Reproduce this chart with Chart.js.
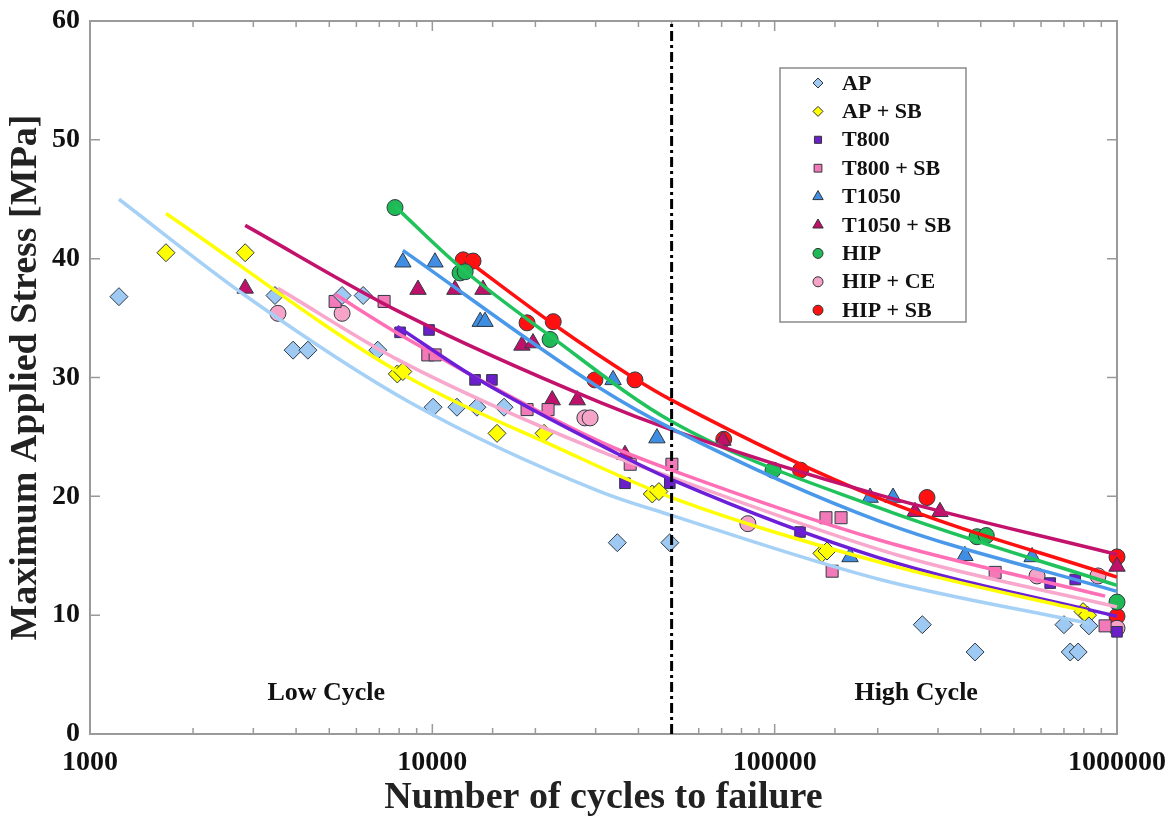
<!DOCTYPE html>
<html>
<head>
<meta charset="utf-8">
<script src="https://cdn.jsdelivr.net/npm/chart.js@4.4.1/dist/chart.umd.min.js"></script>
<style>
html, body { margin: 0; padding: 0; background: #fff; }
#wrap { width: 1174px; height: 821px; position: relative; }
</style>
</head>
<body>
<div id="wrap"><canvas id="myChart"></canvas></div>
<script>
// series names, same order as the legend
const SERIES = ['AP', 'AP + SB', 'T800', 'T800 + SB', 'T1050', 'T1050 + SB', 'HIP', 'HIP + CE', 'HIP + SB'];

// measured points [cycles, stress MPa]
const AP = [[1215,36.8],[3470,36.9],[3920,32.3],[4330,32.3],[5450,36.9],[6280,36.9],[6930,32.3],[10050,27.5],[11800,27.5],[13500,27.5],[16200,27.5],[34700,16.1],[49400,16.1],[270000,9.2],[385000,6.9],[700000,9.2],[730000,6.9],[770000,6.9],[828000,9.1]];
const AP_SB = [[1667,40.5],[2840,40.5],[7900,30.3],[8200,30.5],[15450,25.3],[21200,25.3],[43900,20.2],[45900,20.4],[137400,15.2],[142200,15.4],[796000,10.3],[820000,10.0]];
const T800 = [[8050,33.8],[9780,34.0],[13330,29.8],[14930,29.8],[36540,21.1],[49400,21.1],[118600,17.0],[638000,12.7],[755000,13.0],[1000000,8.6]];
const T800_SB = [[5200,36.4],[7230,36.4],[9700,31.9],[10190,31.9],[18910,27.3],[21780,27.3],[37850,22.7],[50100,22.7],[141200,18.2],[156300,18.2],[147200,13.7],[440600,13.6],[923000,9.1]];
const T1050 = [[8200,39.7],[10180,39.7],[13800,34.7],[14250,34.7],[33730,29.8],[45300,24.9],[166000,14.9],[190000,19.9],[221700,19.9],[359500,15.0],[565000,14.9]];
const T1050_SB = [[2840,37.5],[9080,37.4],[11640,37.4],[14060,37.4],[18270,32.7],[19680,32.9],[22400,28.1],[26500,28.1],[36540,23.5],[70600,24.7],[257000,18.7],[304000,18.7],[1000000,14.1]];
const HIP = [[7780,44.3],[12050,38.8],[12470,38.9],[22080,33.2],[98900,22.2],[390000,16.6],[415000,16.7],[1000000,11.1]];
const HIP_CE = [[3540,35.4],[5450,35.4],[27900,26.6],[28900,26.6],[83500,17.7],[584000,13.3],[880000,13.3],[1000000,8.9]];
const HIP_SB = [[12310,39.9],[13150,39.8],[18910,34.6],[22550,34.7],[29850,29.8],[39080,29.8],[71000,24.8],[119000,22.2],[278600,19.9],[1000000,14.9],[1000000,9.9]];

// fitted curves
const AP_FIT = [[1215,45.0],[2840,36.9],[8610,27.9],[30900,20.4],[50000,18.4],[203000,13.0],[828000,9.3]];
const AP_SB_FIT = [[1667,43.8],[8050,30.4],[23600,24.0],[50000,19.9],[232000,14.0],[820000,10.3]];
const T800_FIT = [[7900,34.3],[13330,30.0],[34660,23.6],[50000,21.4],[203000,14.8],[1000000,9.9]];
const T800_SB_FIT = [[5200,37.0],[8050,33.6],[30900,24.6],[50000,22.2],[203000,16.3],[923000,11.6]];
const T1050_FIT = [[8200,40.7],[30900,29.1],[50000,25.7],[203000,17.9],[1000000,12.0]];
const T1050_SB_FIT = [[2840,42.8],[8050,35.5],[30900,27.9],[50000,25.6],[203000,20.1],[1000000,15.1]];
const HIP_FIT = [[7780,44.4],[12050,39.3],[22080,33.5],[50000,26.3],[203000,19.0],[1000000,12.5]];
const HIP_CE_FIT = [[3540,37.5],[8050,31.4],[30900,23.8],[50000,21.6],[232000,15.0],[1000000,10.7]];
const HIP_SB_FIT = [[12310,40.1],[22550,34.5],[39080,29.9],[50000,28.1],[203000,19.8],[1000000,13.2]];

const POINTS = [AP, AP_SB, T800, T800_SB, T1050, T1050_SB, HIP, HIP_CE, HIP_SB];
const FITS = [AP_FIT, AP_SB_FIT, T800_FIT, T800_SB_FIT, T1050_FIT, T1050_SB_FIT, HIP_FIT, HIP_CE_FIT, HIP_SB_FIT];

const X_LABELS = [1000, 10000, 100000, 1000000];
const LIMIT = 50000;
const REGIONS = [['Low Cycle', 4900, 3.4], ['High Cycle', 259000, 3.4]];

// looks
const FONT = "'Liberation Serif', 'Times New Roman', serif";
const LOOKS = [
    { fill: '#9ec9f2', line: '#a6d1f6', shape: 'rectRot', r: 9, lr: 5 },
    { fill: '#ffff00', line: '#ffff00', shape: 'rectRot', r: 9, lr: 5 },
    { fill: '#6a1fc9', line: '#6b1fd6', shape: 'rect', r: 7.5, lr: 5 },
    { fill: '#f27ab8', line: '#ff6fb6', shape: 'rect', r: 8.5, lr: 5.5 },
    { fill: '#3f8ee3', line: '#4a98ea', shape: 'triangle', r: 9.5, lr: 6 },
    { fill: '#c0116a', line: '#c2126c', shape: 'triangle', r: 9.5, lr: 6 },
    { fill: '#1fba55', line: '#20c25b', shape: 'circle', r: 8, lr: 5 },
    { fill: '#f5a3c7', line: '#f8a8cc', shape: 'circle', r: 8, lr: 5 },
    { fill: '#ff1111', line: '#ff1010', shape: 'circle', r: 8, lr: 5 }
];

const isDecade = v => Math.abs(Math.log10(v) - Math.round(Math.log10(v))) < 1e-6;

const frame = {
    id: 'frame',
    beforeDatasetsDraw(chart) {
        const { ctx, chartArea: a, scales: { x, y } } = chart;
        ctx.save();
        ctx.strokeStyle = '#9a9a9a';
        ctx.lineWidth = 2;
        ctx.strokeRect(a.left, a.top, a.width, a.height);
        ctx.lineWidth = 1.5;
        ctx.beginPath();
        x.ticks.forEach(t => {
            const px = x.getPixelForValue(t.value);
            const len = isDecade(t.value) ? 10 : 6;
            ctx.moveTo(px, a.bottom); ctx.lineTo(px, a.bottom - len);
            ctx.moveTo(px, a.top); ctx.lineTo(px, a.top + len);
        });
        y.ticks.forEach(t => {
            const py = y.getPixelForValue(t.value);
            ctx.moveTo(a.left, py); ctx.lineTo(a.left + 10, py);
            ctx.moveTo(a.right, py); ctx.lineTo(a.right - 10, py);
        });
        ctx.stroke();
        ctx.restore();
    },
    afterDatasetsDraw(chart) {
        const { ctx, scales: { x, y } } = chart;
        ctx.save();
        ctx.fillStyle = '#111';
        ctx.font = 'bold 26px ' + FONT;
        ctx.textAlign = 'center';
        ctx.textBaseline = 'middle';
        REGIONS.forEach(([txt, vx, vy]) => {
            ctx.fillText(txt, x.getPixelForValue(vx), y.getPixelForValue(vy));
        });
        ctx.restore();
    },
    afterDraw(chart) {
        const ctx = chart.ctx;
        const box = { l: 780, t: 68, w: 186, h: 254 };
        ctx.save();
        ctx.fillStyle = '#fff';
        ctx.fillRect(box.l, box.t, box.w, box.h);
        ctx.strokeStyle = '#8a8a8a';
        ctx.lineWidth = 1.5;
        ctx.strokeRect(box.l, box.t, box.w, box.h);
        ctx.font = 'bold 22px ' + FONT;
        ctx.textBaseline = 'middle';
        ctx.textAlign = 'left';
        SERIES.forEach((name, i) => {
            const cy = box.t + 15 + i * 28.4;
            const lk = LOOKS[i];
            ctx.fillStyle = lk.fill;
            ctx.strokeStyle = '#333';
            ctx.lineWidth = 1;
            Chart.helpers.drawPoint(ctx, { pointStyle: lk.shape, radius: lk.lr, borderWidth: 1 }, 818, cy);
            ctx.fillStyle = '#111';
            ctx.fillText(name, 842, cy + 1);
        });
        ctx.restore();
    }
};

const datasets = [];
datasets.push({
    label: 'limit',
    data: [{ x: LIMIT, y: 0 }, { x: LIMIT, y: 60 }],
    showLine: true,
    borderColor: '#000',
    borderWidth: 3,
    borderDash: [10, 4, 3, 4],
    pointRadius: 0,
    clip: false
});
FITS.forEach((f, i) => {
    datasets.push({
        label: SERIES[i] + ' fit',
        data: f.map(([x, y]) => ({ x, y })),
        showLine: true,
        borderColor: LOOKS[i].line,
        borderWidth: 3.5,
        pointRadius: 0,
        cubicInterpolationMode: 'monotone',
        clip: false
    });
});
POINTS.forEach((p, i) => {
    datasets.push({
        label: SERIES[i],
        data: p.map(([x, y]) => ({ x, y })),
        showLine: false,
        pointStyle: LOOKS[i].shape,
        pointRadius: LOOKS[i].r,
        backgroundColor: LOOKS[i].fill,
        borderColor: '#2f3a45',
        borderWidth: 1,
        clip: false
    });
});

const ctx = document.getElementById('myChart');
new Chart(ctx, {
    type: 'scatter',
    data: { datasets },
    options: {
        responsive: true,
        maintainAspectRatio: false,
        animation: false,
        layout: { padding: { top: 21, right: 57, left: 0, bottom: 0 } },
        plugins: { legend: { display: false }, tooltip: { enabled: false } },
        scales: {
            x: {
                type: 'logarithmic',
                min: 1000,
                max: 1000000,
                grid: { display: false, drawTicks: false },
                border: { display: false },
                ticks: {
                    autoSkip: false,
                    maxRotation: 0,
                    padding: 12,
                    color: '#111',
                    font: { family: FONT, size: 28, weight: 'bold' },
                    callback: v => isDecade(v) ? String(Math.round(v)) : ''
                },
                title: {
                    display: true,
                    text: 'Number of cycles to failure',
                    color: '#222',
                    font: { family: FONT, size: 38, weight: 'bold' },
                    padding: { top: 0, bottom: 0 }
                },
                afterFit: s => { s.height = 87; s.paddingLeft = 0; s.paddingRight = 0; }
            },
            y: {
                min: 0,
                max: 60,
                grid: { display: false, drawTicks: false },
                border: { display: false },
                ticks: {
                    stepSize: 10,
                    padding: 10,
                    color: '#111',
                    font: { family: FONT, size: 28, weight: 'bold' }
                },
                title: {
                    display: true,
                    text: 'Maximum Applied Stress [MPa]',
                    color: '#222',
                    font: { family: FONT, size: 38, weight: 'bold' },
                    padding: { top: 3, bottom: 0 }
                },
                afterFit: s => { s.width = 90; s.paddingTop = 0; s.paddingBottom = 0; }
            }
        }
    },
    plugins: [frame]
});
</script>
</body>
</html>
